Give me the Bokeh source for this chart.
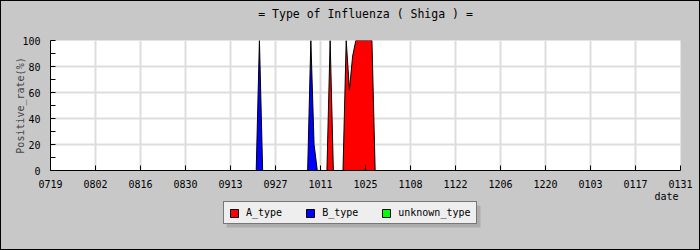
import pandas as pd
from bokeh.plotting import figure
from bokeh.layouts import column
from bokeh.models import (ColumnDataSource, FixedTicker, Legend, LegendItem, Range1d,
                          Title, Label, BoxAnnotation)
from bokeh.embed import file_html
from bokeh.resources import INLINE

title_text = "= Type of Influenza ( Shiga ) ="
x_label = "date"
y_label = "Positive_rate(%)"
start_date = "0719"
tick_labels = ["0719", "0802", "0816", "0830", "0913", "0927", "1011",
               "1025", "1108", "1122", "1206", "1220", "0103", "0117", "0131"]
y_ticks = [0, 20, 40, 60, 80, 100]

dates = ["0920", "0921", "0922", "0923", "0924", "0925", "0926", "0927", "0928", "0929",
         "0930", "1001", "1002", "1003", "1004", "1005", "1006", "1007", "1008", "1009",
         "1010", "1011", "1012", "1013", "1014", "1015", "1016", "1017", "1018", "1019",
         "1020", "1021", "1022", "1023", "1024", "1025", "1026", "1027", "1028", "1029"]
A_type = [0, 0, 0, 0, 0, 0, 0, 0, 0, 0,
          0, 0, 0, 0, 0, 0, 0, 0, 0, 0,
          0, 0, 0, 0, 100, 0, 0, 0, 0, 100,
          62, 88, 100, 100, 100, 100, 100, 100, 0, 0]
B_type = [0, 0, 100, 0, 0, 0, 0, 0, 0, 0,
          0, 0, 0, 0, 0, 0, 0, 0, 100, 20,
          0, 0, 0, 0, 0, 0, 0, 0, 0, 0,
          0, 0, 0, 0, 0, 0, 0, 0, 0, 0]
unknown_type = [0, 0, 0, 0, 0, 0, 0, 0, 0, 0,
                0, 0, 0, 0, 0, 0, 0, 0, 0, 0,
                0, 0, 0, 0, 0, 0, 0, 0, 0, 0,
                0, 0, 0, 0, 0, 0, 0, 0, 0, 0]

series_names = ["A_type", "B_type", "unknown_type"]
series_colors = ["#ff0000", "#0000ff", "#00ff00"]

FONT = "DejaVu Sans Mono"
GRAY = "#c8c8c8"
SHADOW = "#adadad"
NAN = float("nan")


def to_dt(s):
    year = 2012 if int(s[:2]) >= 7 else 2013
    return pd.Timestamp(year=year, month=int(s[:2]), day=int(s[2:]))


base = to_dt(start_date)
x = [(to_dt(d) - base).days for d in dates]
tick_pos = [(to_dt(t) - base).days for t in tick_labels]

a0 = [0] * len(x)
a1 = [a for a in A_type]
b1 = [a + b for a, b in zip(A_type, B_type)]
u1 = [a + b + u for a, b, u in zip(A_type, B_type, unknown_type)]
src = ColumnDataSource(dict(x=x, a0=a0, a1=a1, b1=b1, u1=u1))

p = figure(frame_width=630, frame_height=130, output_backend="svg", toolbar_location=None,
           x_range=Range1d(tick_pos[0], tick_pos[-1]), y_range=Range1d(0, 100),
           min_border_left=49, min_border_right=19, min_border_top=39, min_border_bottom=21,
           background_fill_color="white", border_fill_color=GRAY,
           outline_line_color=None, title=None)

spacer = Title(text=" ", text_font_size="10px", standoff=7)
p.add_layout(spacer, "above")
main_title = Title(text=title_text, align="center", text_font=FONT, text_font_size="11.5px",
                   text_font_style="normal", text_color="black", standoff=0)
p.add_layout(main_title, "above")

p.varea(x="x", y1="a0", y2="a1", source=src, fill_color=series_colors[0])
p.varea(x="x", y1="a1", y2="b1", source=src, fill_color=series_colors[1])
p.varea(x="x", y1="b1", y2="u1", source=src, fill_color=series_colors[2])
p.line(x="x", y="u1", source=src, line_color="black", line_width=1)

for ax in (p.xaxis[0], p.yaxis[0]):
    ax.major_label_text_font = FONT
    ax.major_label_text_font_size = "10px"
    ax.major_label_text_color = "black"
    ax.axis_line_color = "black"
    ax.major_tick_line_color = "black"
    ax.minor_tick_line_color = "black"
    ax.major_tick_in = 5
    ax.major_tick_out = 0
    ax.minor_tick_in = 5
    ax.minor_tick_out = 0

p.xaxis.ticker = FixedTicker(ticks=tick_pos)
p.xaxis.major_label_overrides = {t: lab for t, lab in zip(tick_pos, tick_labels)}
p.xaxis.major_label_standoff = 9

p.yaxis.ticker = FixedTicker(ticks=y_ticks, minor_ticks=[10, 30, 50, 70, 90])
p.yaxis.major_label_standoff = 10
p.yaxis.axis_label = y_label
p.yaxis.axis_label_text_font = FONT
p.yaxis.axis_label_text_font_size = "10px"
p.yaxis.axis_label_text_font_style = "normal"
p.yaxis.axis_label_standoff = -7

p.xgrid.ticker = FixedTicker(ticks=tick_pos)
p.ygrid.ticker = FixedTicker(ticks=y_ticks)
p.grid.grid_line_color = "#dddddd"
p.grid.grid_line_width = 2

# lower strip (frame aligned with the chart frame): axis name and legend
leg_h = 58
lf = figure(frame_width=630, frame_height=leg_h, output_backend="svg", toolbar_location=None,
            x_range=Range1d(0, 630), y_range=Range1d(leg_h, 0), title=None,
            x_axis_location=None, y_axis_location=None,
            min_border_left=49, min_border_right=19, min_border_top=0, min_border_bottom=0,
            background_fill_color=GRAY, border_fill_color=GRAY, outline_line_color=None)
lf.grid.visible = False

lf.add_layout(Label(x=628, y=5, text=x_label, text_align="right", text_baseline="middle",
                    text_font=FONT, text_font_size="10px", text_color="black"))

# legend drop shadow
lf.add_layout(BoxAnnotation(left=176, right=430, top=14, bottom=36, fill_color=SHADOW,
                            fill_alpha=1, line_color=None))

items = []
for name, col in zip(series_names, series_colors):
    r = lf.quad(left=[NAN], right=[NAN], top=[NAN], bottom=[NAN], fill_color=col,
                line_color="black", line_width=1)
    items.append(LegendItem(label=name, renderers=[r]))

legend = Legend(items=items, location=(173, 25), orientation="horizontal")
legend.label_text_font = FONT
legend.label_text_font_size = "10px"
legend.glyph_width = 10
legend.glyph_height = 10
legend.label_height = 10
legend.label_standoff = 7
legend.spacing = 23
legend.padding = 5
legend.margin = 0
legend.border_line_color = "black"
legend.border_line_width = 1
legend.background_fill_color = "#eeeeee"
legend.background_fill_alpha = 1
legend.label_text_color = "black"
lf.add_layout(legend, "center")

layout = column(p, lf, spacing=0, styles={"border": "1px solid black", "background": GRAY})

open("out.html", "w").write(file_html(layout, INLINE))
